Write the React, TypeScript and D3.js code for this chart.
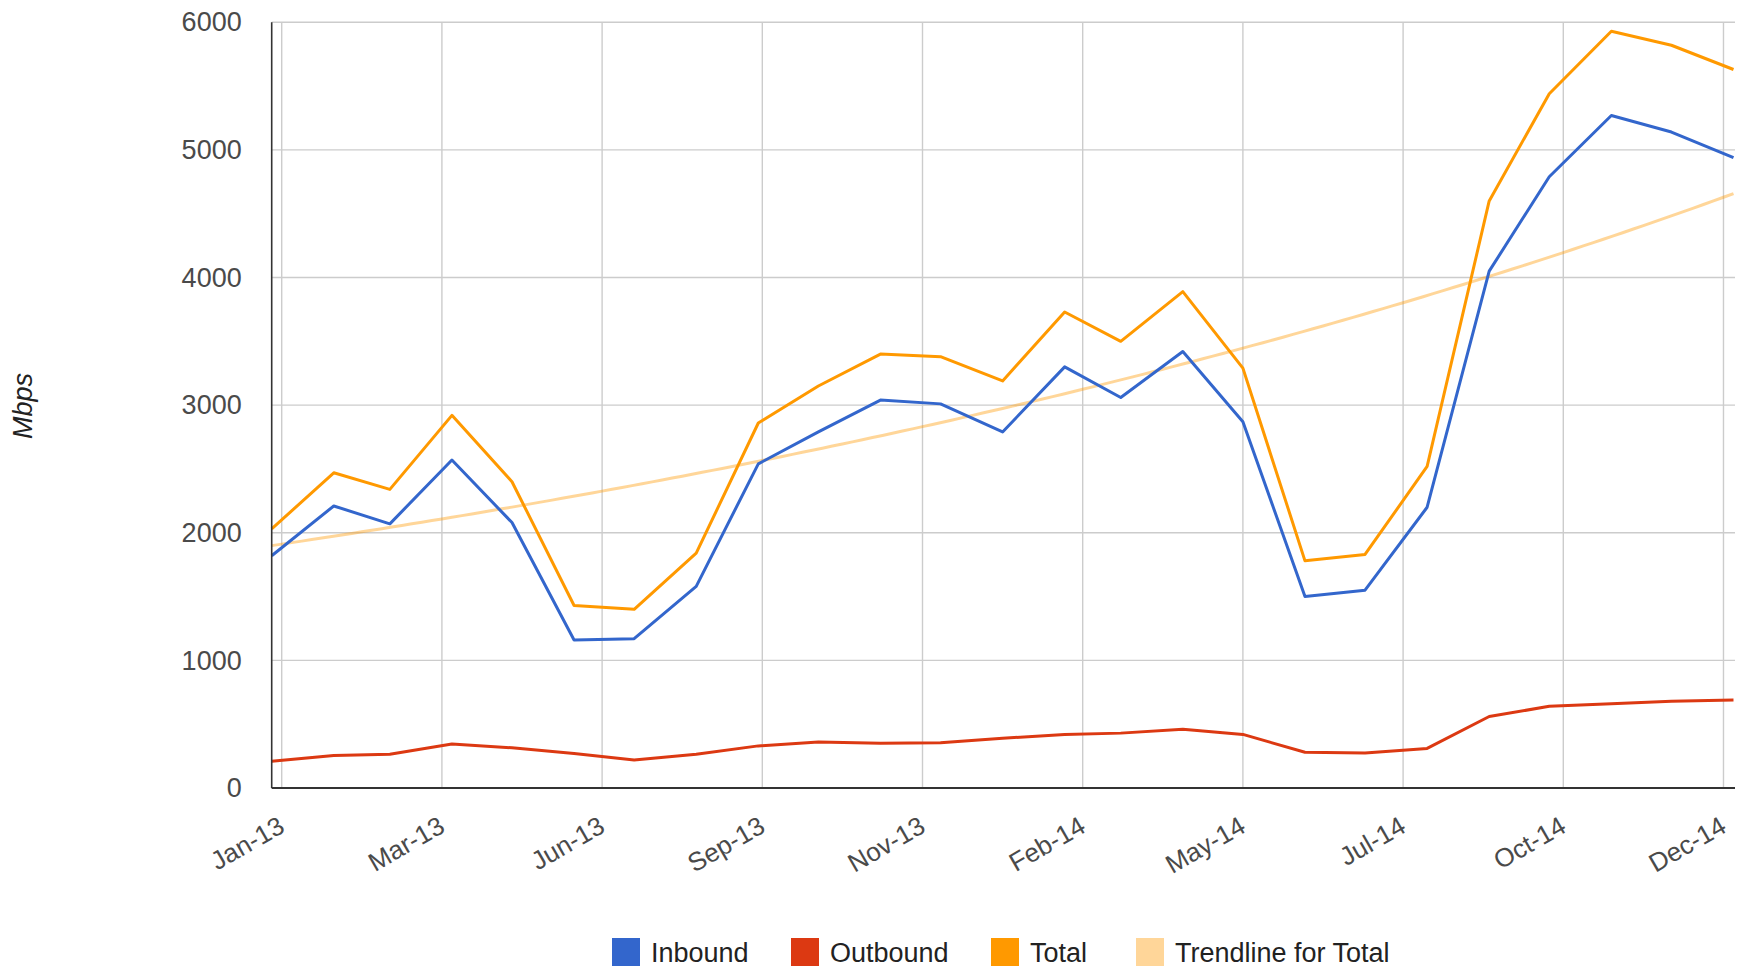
import React, { useEffect, useRef } from "react";
import * as d3 from "d3";

// monthly samples, Jan 2013 .. Jan 2015
const months = [
  "2013-01-01", "2013-02-01", "2013-03-01", "2013-04-01", "2013-05-01",
  "2013-06-01", "2013-07-01", "2013-08-01", "2013-09-01", "2013-10-01",
  "2013-11-01", "2013-12-01", "2014-01-01", "2014-02-01", "2014-03-01",
  "2014-04-01", "2014-05-01", "2014-06-01", "2014-07-01", "2014-08-01",
  "2014-09-01", "2014-10-01", "2014-11-01", "2014-12-01", "2015-01-01",
];

const inbound = [
  1820, 2210, 2070, 2570, 2080, 1160, 1170, 1580, 2540, 2790, 3040, 3010,
  2790, 3300, 3060, 3420, 2870, 1500, 1550, 2200, 4050, 4790, 5270, 5140, 4940,
];

const outbound = [
  210, 255, 265, 345, 315, 270, 220, 265, 330, 360, 350, 355,
  390, 420, 430, 460, 420, 280, 275, 310, 560, 640, 660, 680, 690,
];

const total = [
  2030, 2470, 2340, 2920, 2400, 1430, 1400, 1840, 2860, 3150, 3400, 3380,
  3190, 3730, 3500, 3890, 3290, 1780, 1830, 2520, 4600, 5440, 5930, 5820, 5630,
];

// gridline / label dates on the time axis
const tickDates = [
  "2013-01-06", "2013-03-27", "2013-06-15", "2013-09-03", "2013-11-22",
  "2014-02-10", "2014-05-01", "2014-07-20", "2014-10-08", "2014-12-27",
];

const yTicks = [0, 1000, 2000, 3000, 4000, 5000, 6000];

const seriesNames = ["Inbound", "Outbound", "Total", "Trendline for Total"];
const seriesColors = ["#3366cc", "#dc3912", "#ff9900", "#ff9900"];

export default function App() {
  const svgRef = useRef<SVGSVGElement>(null);
  const width = 1748;
  const height = 969;
  const margin = { top: 22.3, right: 14.5, bottom: 181, left: 271.7 };
  const font = "'Liberation Sans', Arial, sans-serif";

  useEffect(() => {
    document.body.style.margin = "0";
    const svg = d3.select(svgRef.current);
    svg.selectAll("*").remove();

    const parse = d3.utcParse("%Y-%m-%d");
    const dates = months.map((d) => parse(d) as Date);
    const ticks = tickDates.map((d) => parse(d) as Date);

    const x = d3
      .scaleUtc()
      .domain([dates[0], dates[dates.length - 1]])
      .range([margin.left, width - margin.right]);
    const y = d3
      .scaleLinear()
      .domain([0, 6000])
      .range([height - margin.bottom, margin.top]);

    // gridlines
    const grid = svg.append("g").attr("stroke", "#cccccc").attr("stroke-width", 1.4);
    grid
      .selectAll("line.h")
      .data(yTicks)
      .enter()
      .append("line")
      .attr("x1", margin.left)
      .attr("x2", width - margin.right + 1.5)
      .attr("y1", (d) => y(d))
      .attr("y2", (d) => y(d));
    grid
      .selectAll("line.v")
      .data(ticks)
      .enter()
      .append("line")
      .attr("x1", (d) => x(d))
      .attr("x2", (d) => x(d))
      .attr("y1", margin.top)
      .attr("y2", height - margin.bottom);

    // y axis labels
    const yAxis = svg
      .append("g")
      .attr("transform", `translate(${margin.left}, 0)`)
      .call(d3.axisLeft(y).tickValues(yTicks).tickSize(0).tickPadding(30).tickFormat(d3.format("d")));
    yAxis.select(".domain").remove();
    yAxis
      .selectAll("text")
      .attr("font-family", font)
      .attr("font-size", 27)
      .attr("fill", "#4a4a4a");

    // x axis labels
    const xAxis = svg
      .append("g")
      .attr("transform", `translate(0, ${height - margin.bottom})`)
      .call(
        d3
          .axisBottom(x)
          .tickValues(ticks)
          .tickSize(0)
          .tickFormat((d) => d3.utcFormat("%b-%y")(d as Date))
      );
    xAxis.select(".domain").remove();
    xAxis
      .selectAll("text")
      .attr("x", 0)
      .attr("y", 0)
      .attr("dy", 0)
      .attr("transform", "translate(4, 43) rotate(-30)")
      .attr("text-anchor", "end")
      .attr("font-family", font)
      .attr("font-size", 26)
      .attr("fill", "#4a4a4a");

    // exponential trendline fitted to Total (least squares on ln y)
    const t0 = dates[0].getTime();
    const day = 86400000;
    const xs = dates.map((d) => (d.getTime() - t0) / day);
    const ls = total.map((v) => Math.log(v));
    const mx = d3.mean(xs) as number;
    const ml = d3.mean(ls) as number;
    const b =
      d3.sum(xs, (v, i) => (v - mx) * (ls[i] - ml)) /
      d3.sum(xs, (v) => (v - mx) * (v - mx));
    const a = ml - b * mx;
    const span = xs[xs.length - 1];
    const trend = d3.range(0, span + 1, 5).map((t) => ({
      date: new Date(t0 + t * day),
      v: Math.exp(a + b * t),
    }));

    const line = d3
      .line<{ date: Date; v: number }>()
      .x((d) => x(d.date))
      .y((d) => y(d.v));

    svg
      .append("path")
      .datum(trend)
      .attr("d", line)
      .attr("fill", "none")
      .attr("stroke", seriesColors[3])
      .attr("stroke-opacity", 0.4)
      .attr("stroke-width", 3);

    [inbound, outbound, total].forEach((vals, i) => {
      svg
        .append("path")
        .datum(vals.map((v, j) => ({ date: dates[j], v })))
        .attr("d", line)
        .attr("fill", "none")
        .attr("stroke", seriesColors[i])
        .attr("stroke-width", 3)
        .attr("stroke-linejoin", "round");
    });

    // axis lines
    svg
      .append("line")
      .attr("x1", margin.left)
      .attr("x2", margin.left)
      .attr("y1", margin.top)
      .attr("y2", height - margin.bottom)
      .attr("stroke", "#333")
      .attr("stroke-width", 1.6);
    svg
      .append("line")
      .attr("x1", margin.left)
      .attr("x2", width - margin.right + 1.5)
      .attr("y1", y(0))
      .attr("y2", y(0))
      .attr("stroke", "#333")
      .attr("stroke-width", 2);

    // y title
    svg
      .append("text")
      .attr("transform", "translate(32, 406) rotate(-90)")
      .attr("text-anchor", "middle")
      .attr("font-family", font)
      .attr("font-size", 27)
      .attr("font-style", "italic")
      .attr("fill", "#222")
      .text("Mbps");

    // legend
    const legendX = [612, 791, 991, 1136];
    const legend = svg
      .selectAll("g.legend")
      .data(seriesNames)
      .enter()
      .append("g")
      .attr("transform", (d, i) => `translate(${legendX[i]}, 938)`);
    legend
      .append("rect")
      .attr("width", 28)
      .attr("height", 28)
      .attr("fill", (d, i) => seriesColors[i])
      .attr("fill-opacity", (d, i) => (i === 3 ? 0.4 : 1));
    legend
      .append("text")
      .attr("x", 39)
      .attr("y", 24)
      .attr("font-family", font)
      .attr("font-size", 27)
      .attr("fill", "#222")
      .text((d) => d);
  }, []);

  return <svg ref={svgRef} width={width} height={height} style={{ display: "block" }} />;
}
